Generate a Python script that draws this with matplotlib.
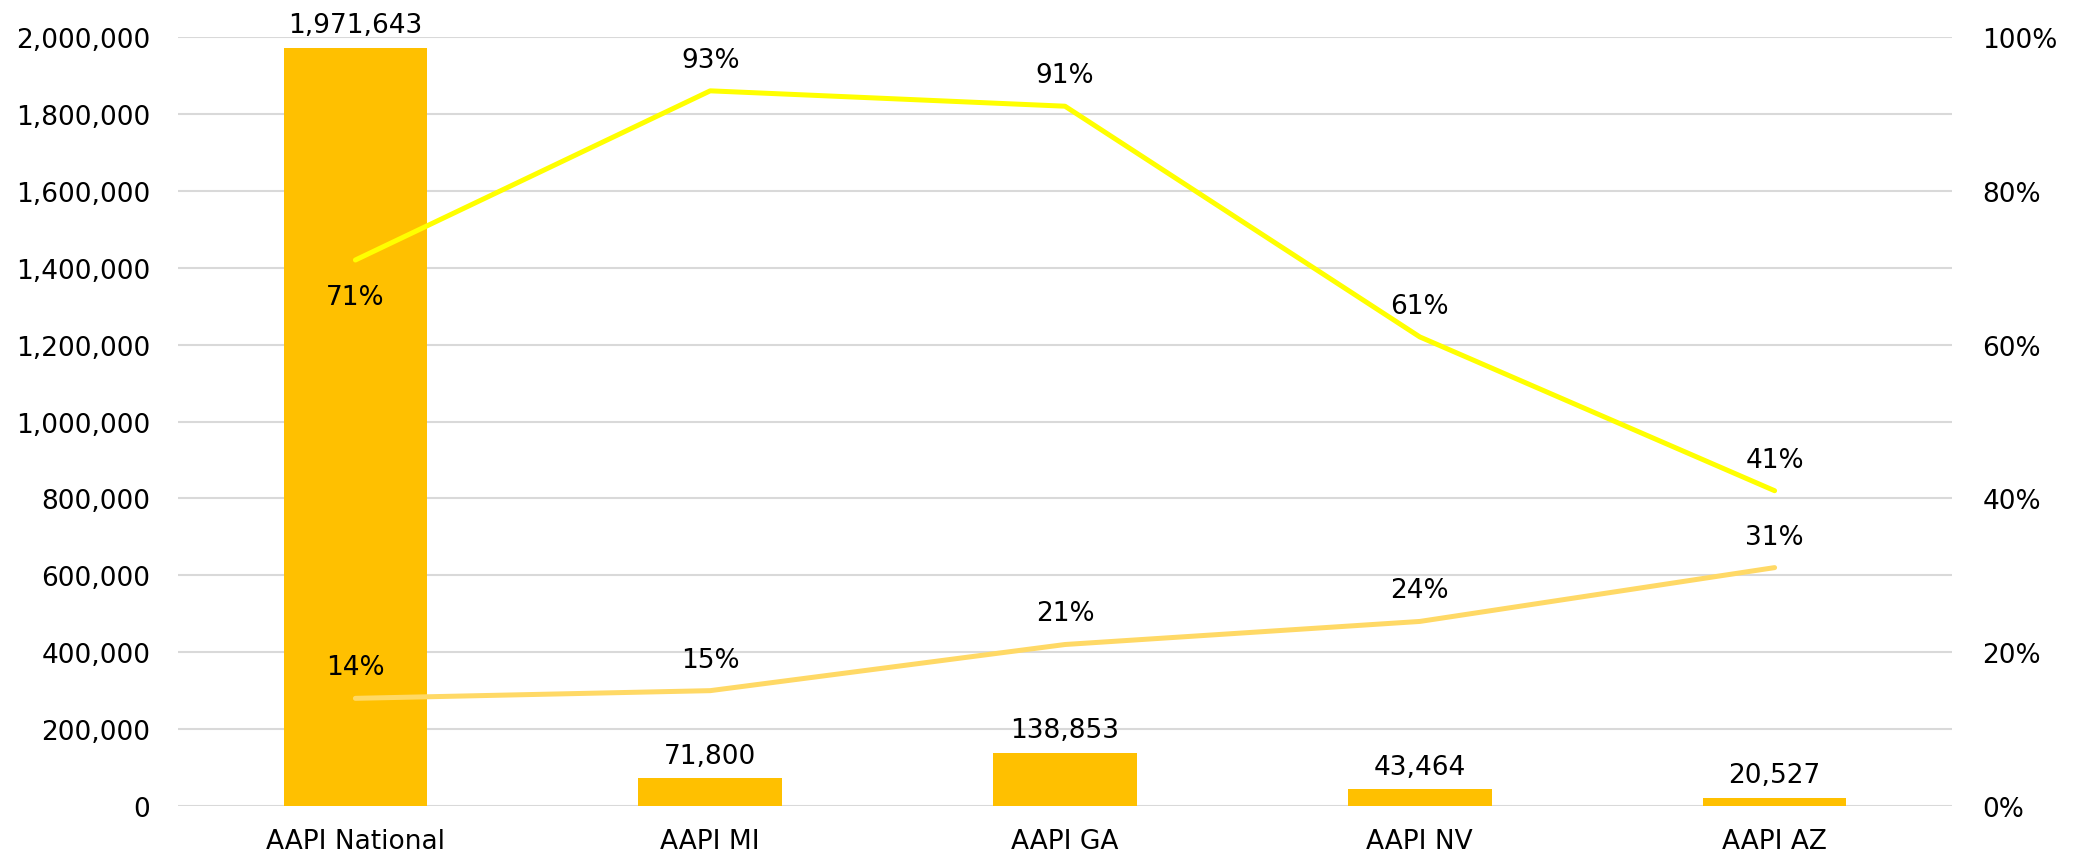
import matplotlib.pyplot as plt
from matplotlib.ticker import FuncFormatter, MultipleLocator

categories = ['AAPI National', 'AAPI MI', 'AAPI GA', 'AAPI NV', 'AAPI AZ']
counts = [1971643, 71800, 138853, 43464, 20527]
share_a = [0.71, 0.93, 0.91, 0.61, 0.41]
share_b = [0.14, 0.15, 0.21, 0.24, 0.31]

plt.rcParams['font.family'] = ['DejaVu Sans']
plt.rcParams['font.size'] = 19

fig = plt.figure(figsize=(20.82, 8.62), dpi=100)
ax = fig.add_axes([178 / 2082, 1 - 807 / 862, (1952 - 178) / 2082, (807 - 38) / 862])
x = list(range(len(categories)))

ax.set_axisbelow(True)
ax.yaxis.grid(True, color='#D9D9D9', linewidth=1.5)
bars = ax.bar(x, counts, width=0.405, color='#FFC000', zorder=2)
ax.set_ylim(0, 2000000)
ax.set_xlim(-0.5, len(categories) - 0.5)
ax.yaxis.set_major_locator(MultipleLocator(200000))
ax.yaxis.set_major_formatter(FuncFormatter(lambda v, p: f'{int(v):,}'))
ax.set_xticks(x)
ax.set_xticklabels(categories)
for s in ax.spines.values():
    s.set_visible(False)
ax.tick_params(length=0, pad=16)
ax.tick_params(axis='y', pad=20)
for xi, v in zip(x, counts):
    ax.annotate(f'{v:,}', (xi, v), xytext=(0, 7), textcoords='offset points',
                ha='center', va='bottom')

ax2 = ax.twinx()
ax2.set_ylim(0, 1)
ax2.yaxis.set_major_locator(MultipleLocator(0.2))
ax2.yaxis.set_major_formatter(FuncFormatter(lambda v, p: f'{v:.0%}'))
for s in ax2.spines.values():
    s.set_visible(False)
ax2.tick_params(length=0, pad=22)
ax2.plot(x, share_a, color='#FFFF00', linewidth=3.6, solid_capstyle='round', zorder=3)
ax2.plot(x, share_b, color='#FFD966', linewidth=3.6, solid_capstyle='round', zorder=3)
for i, (xi, v) in enumerate(zip(x, share_a)):
    if i == 0:
        ax2.annotate(f'{v:.0%}', (xi, v), xytext=(0, -17), textcoords='offset points',
                     ha='center', va='top')
    else:
        ax2.annotate(f'{v:.0%}', (xi, v), xytext=(0, 13), textcoords='offset points',
                     ha='center', va='bottom')
for xi, v in zip(x, share_b):
    ax2.annotate(f'{v:.0%}', (xi, v), xytext=(0, 13), textcoords='offset points',
                 ha='center', va='bottom')

fig.savefig('out.png', dpi=100)
